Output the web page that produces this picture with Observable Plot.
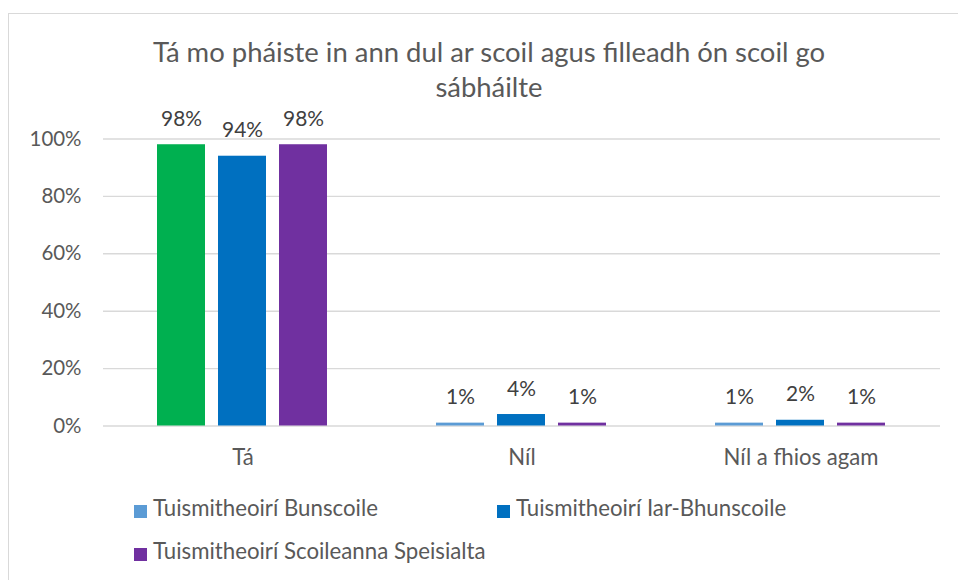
<!DOCTYPE html>
<html>
<head>
<meta charset="utf-8">
<script src="https://cdn.jsdelivr.net/npm/d3@7"></script>
<script src="https://cdn.jsdelivr.net/npm/@observablehq/plot@0.6"></script>
<style>
  html, body { margin: 0; padding: 0; background: #fff; }
  body { width: 958px; height: 580px; position: relative; overflow: hidden; font-family: Lato, "Open Sans", sans-serif; color: #595959; }
  #frame { position: absolute; left: 8px; top: 13px; width: 980px; height: 600px; border: 1px solid #d9d9d9; box-sizing: border-box; }
  #title { position: absolute; left: 0; width: 978px; text-align: center; white-space: nowrap; line-height: 35px; }
  #chart { position: absolute; left: 0; top: 100px; }
  .lg { position: absolute; white-space: nowrap; line-height: 1.2; }
  .sw { position: absolute; width: 13px; height: 13px; }
</style>
</head>
<body>
<div id="frame"></div>
<div id="title"></div>
<div id="chart"></div>
<div id="legend"></div>
<script>
// ---- data ----
const titleLines = ["Tá mo pháiste in ann dul ar scoil agus filleadh ón scoil go", "sábháilte"];
const categories = ["Tá", "Níl", "Níl a fhios agam"];
const series = ["Tuismitheoirí Bunscoile", "Tuismitheoirí Iar-Bhunscoile", "Tuismitheoirí Scoileanna Speisialta"];
const bunscoile = [0.98, 0.01, 0.01];
const iarBhunscoile = [0.94, 0.04, 0.02];
const speisialta = [0.98, 0.01, 0.01];
const yTicks = [0, 0.2, 0.4, 0.6, 0.8, 1.0];

// ---- styles ----
const seriesColors = ["#5B9BD5", "#0070C0", "#7030A0"];
const highlightColor = "#00B050"; // first bar of "Tá" drawn green in the original
const FONT = "Lato";

function fit(text, target) {
  const c = document.createElement("canvas").getContext("2d");
  c.font = `100px ${FONT}`;
  return 100 * target / c.measureText(text).width;
}
const titleFs = fit(titleLines[0], 673);
const tickFs = fit("100%", 52);
const valFs = fit("98%", 41);
const catFs = fit("Níl a fhios agam", 155);
const legFs = fit(series[0], 225);
const ASC = 0.987;

// title
const t = document.getElementById("title");
t.style.fontSize = titleFs + "px";
t.innerHTML = titleLines.join("<br>");
const halfLead = (35 - 1.2 * titleFs) / 2;
t.style.top = (62 - halfLead - ASC * titleFs) + "px";

// table
const values = [bunscoile, iarBhunscoile, speisialta];
const rows = [];
categories.forEach((c, ci) => {
  series.forEach((s, si) => {
    rows.push({
      category: c, series: s, value: values[si][ci],
      color: (ci === 0 && si === 0) ? highlightColor : seriesColors[si]
    });
  });
});

const fmt = d3.format(".0%");
const chart = Plot.plot({
  width: 958,
  height: 400,
  marginLeft: 102,
  marginRight: 18,
  marginTop: 38.5,
  marginBottom: 74.5,
  style: { fontFamily: FONT, color: "#595959", background: "transparent", overflow: "visible" },
  fx: { domain: categories, padding: 0, label: null, axis: null },
  x: { domain: series, paddingInner: 0.21, paddingOuter: 0.857, axis: null },
  y: { domain: [0, 1], axis: null },
  color: { type: "identity" },
  marks: [
    Plot.ruleY(yTicks, { stroke: "#d9d9d9", strokeWidth: 1.4 }),
    Plot.axisY(yTicks, { tickFormat: fmt, tickSize: 0, tickPadding: 22, fontSize: tickFs, label: null, fill: "#595959" }),
    Plot.axisFx({ anchor: "bottom", tickSize: 0, tickPadding: 23, fontSize: catFs, label: null, fill: "#595959" }),
    Plot.barY(rows, { fx: "category", x: "series", y: "value", fill: "color" }),
    Plot.text(rows, { fx: "category", x: "series", y: "value", text: d => fmt(d.value), lineAnchor: "bottom", dy: -19, fontSize: valFs, fill: "#404040" })
  ]
});
document.getElementById("chart").appendChild(chart);

// legend
const legendPos = [
  { x: 134, y: 511 },
  { x: 497, y: 511 },
  { x: 134, y: 554 }
];
const lg = document.getElementById("legend");
series.forEach((s, i) => {
  const p = legendPos[i];
  const sw = document.createElement("div");
  sw.className = "sw";
  sw.style.left = p.x + "px";
  sw.style.top = (p.y - 6.5) + "px";
  sw.style.background = seriesColors[i];
  lg.appendChild(sw);
  const tx = document.createElement("div");
  tx.className = "lg";
  tx.style.fontSize = legFs + "px";
  tx.style.left = (p.x + 19) + "px";
  tx.style.top = (p.y + 6 - ASC * legFs) + "px";
  tx.textContent = s;
  lg.appendChild(tx);
});
</script>
</body>
</html>
